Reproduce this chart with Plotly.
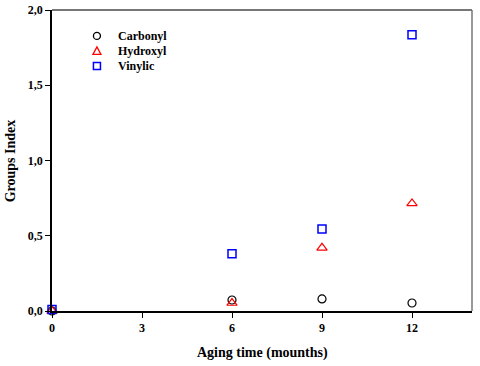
import plotly.graph_objects as go

months = [0, 6, 9, 12]
carbonyl = [0.0, 0.073, 0.08, 0.053]
hydroxyl = [0.0, 0.053, 0.42, 0.715]
vinylic = [0.01, 0.38, 0.545, 1.835]
x_ticks = [0, 3, 6, 9, 12]
y_ticks = [0, 0.5, 1.0, 1.5, 2.0]
y_tick_labels = ["0,0", "0,5", "1,0", "1,5", "2,0"]
series_names = ["Carbonyl", "Hydroxyl", "Vinylic"]

font = "Liberation Serif"
fig = go.Figure()
fig.add_trace(go.Scatter(x=months, y=carbonyl, mode="markers", name=series_names[0],
                         marker=dict(symbol="circle-open", size=8, color="black", line=dict(width=1.2))))
fig.add_trace(go.Scatter(x=months, y=hydroxyl, mode="markers", name=series_names[1],
                         marker=dict(symbol="triangle-up-open", size=9, color="red", line=dict(width=1.2))))
fig.add_trace(go.Scatter(x=months, y=vinylic, mode="markers", name=series_names[2],
                         marker=dict(symbol="square-open", size=8, color="blue", line=dict(width=1.5))))

# manual legend (compact spacing as in the reference)
leg_x = 0.107
leg_y = [0.914, 0.864, 0.814]
shapes = [
    dict(type="line", xref="paper", yref="paper", x0=0, x1=1, y0=1, y1=1,
         line=dict(color="#777777", width=2)),
    dict(type="line", xref="paper", yref="paper", x0=1, x1=1, y0=0, y1=1,
         line=dict(color="#777777", width=1.5)),
    dict(type="circle", xref="paper", yref="paper", xsizemode="pixel", ysizemode="pixel",
         xanchor=leg_x, yanchor=leg_y[0], x0=-3.5, x1=3.5, y0=-3.5, y1=3.5,
         line=dict(color="black", width=1.3)),
    dict(type="path", xref="paper", yref="paper", xsizemode="pixel", ysizemode="pixel",
         xanchor=leg_x, yanchor=leg_y[1], path="M -4 -3.5 L 4 -3.5 L 0 4 Z",
         line=dict(color="red", width=1.3)),
    dict(type="rect", xref="paper", yref="paper", xsizemode="pixel", ysizemode="pixel",
         xanchor=leg_x, yanchor=leg_y[2], x0=-3.5, x1=3.5, y0=-3.5, y1=3.5,
         line=dict(color="blue", width=1.5)),
]
annotations = [
    dict(text=f"<b>{n}</b>", xref="paper", yref="paper", x=0.152, y=yy, xanchor="left",
         yanchor="middle", showarrow=False, font=dict(family=font, size=12, color="black"))
    for n, yy in zip(series_names, leg_y)
]
annotations += [
    dict(text="<b>Aging time (mounths)</b>", xref="paper", yref="paper", x=0.5, y=-0.14,
         xanchor="center", yanchor="middle", showarrow=False,
         font=dict(family=font, size=14, color="black")),
    dict(text="<b>Groups Index</b>", xref="paper", yref="paper", x=-0.098, y=0.5,
         xanchor="center", yanchor="middle", textangle=-90, showarrow=False,
         font=dict(family=font, size=14, color="black")),
]

fig.update_layout(
    width=480, height=366,
    margin=dict(l=52, r=8, t=10, b=55),
    plot_bgcolor="white", paper_bgcolor="white",
    font=dict(family=font, size=12, color="black"),
    showlegend=False,
    xaxis=dict(range=[0, 14], tickvals=x_ticks, ticktext=[f"<b>{v}</b>" for v in x_ticks],
               showgrid=False, zeroline=False, showline=True, linecolor="black", linewidth=1.5,
               ticks="outside", ticklen=5, tickcolor="black", automargin=False,
               tickfont=dict(family=font, size=12)),
    yaxis=dict(range=[0, 2.0], tickvals=y_ticks, ticktext=[f"<b>{t}</b>" for t in y_tick_labels],
               showgrid=False, zeroline=False, showline=True, linecolor="black", linewidth=1.5,
               ticks="outside", ticklen=5, tickcolor="black", automargin=False,
               tickfont=dict(family=font, size=12)),
    shapes=shapes,
    annotations=annotations,
)
fig.update_traces(cliponaxis=False)
fig.write_html("out.html", config={"displayModeBar": False},
               post_script="document.body.style.margin='0';document.body.style.overflow='hidden';")
